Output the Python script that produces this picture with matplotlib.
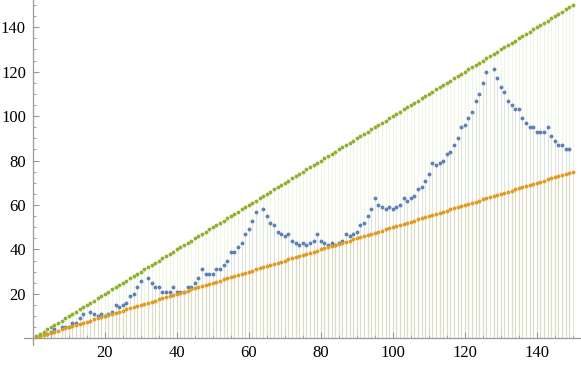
import numpy as np
import matplotlib
matplotlib.use("Agg")
import matplotlib.pyplot as plt
from matplotlib.ticker import MultipleLocator

nan = np.nan

# index 1..150
n = list(range(1, 151))

# blue series (gaps where the picture shows no point)
seq = [nan, 1, nan, 2, 3, 4, nan, 5, 5, 5,
       7, 7, 9, 11, nan, 12, 11, 10, 11, 10,
       11, 12, 15, 14, 15, 16, 19, 20, 23, 26,
       nan, 27, 25, 23, 23, 21, 21, 21, 23, 21,
       21, 21, 23, 23, 25, 27, 31, 29, 29, 29,
       31, 31, 33, 35, 39, 39, 41, 43, 47, 49,
       53, 57, nan, 58, 55, 52, 51, 48, 47, 46,
       47, 44, 43, 42, 43, 42, 43, 44, 47, 44,
       43, 42, 43, 42, 43, 44, 47, 46, 47, 48,
       51, 52, 55, 58, 63, 60, 59, 58, 59, 58,
       59, 60, 63, 62, 63, 64, 67, 68, 71, 74,
       79, 78, 79, 80, 83, 84, 87, 90, 95, 96,
       99, 102, 107, 110, 115, 120, nan, 121, 117, 113,
       111, 107, 105, 103, 103, 99, 97, 95, 95, 93,
       93, 93, 95, 91, 89, 87, 87, 85, 85, nan]

# lower bound n/2
half = [0.5, 1, 1.5, 2, 2.5, 3, 3.5, 4, 4.5, 5, 5.5, 6, 6.5, 7, 7.5, 8, 8.5, 9, 9.5, 10,
        10.5, 11, 11.5, 12, 12.5, 13, 13.5, 14, 14.5, 15, 15.5, 16, 16.5, 17, 17.5, 18, 18.5, 19, 19.5, 20,
        20.5, 21, 21.5, 22, 22.5, 23, 23.5, 24, 24.5, 25, 25.5, 26, 26.5, 27, 27.5, 28, 28.5, 29, 29.5, 30,
        30.5, 31, 31.5, 32, 32.5, 33, 33.5, 34, 34.5, 35, 35.5, 36, 36.5, 37, 37.5, 38, 38.5, 39, 39.5, 40,
        40.5, 41, 41.5, 42, 42.5, 43, 43.5, 44, 44.5, 45, 45.5, 46, 46.5, 47, 47.5, 48, 48.5, 49, 49.5, 50,
        50.5, 51, 51.5, 52, 52.5, 53, 53.5, 54, 54.5, 55, 55.5, 56, 56.5, 57, 57.5, 58, 58.5, 59, 59.5, 60,
        60.5, 61, 61.5, 62, 62.5, 63, 63.5, 64, 64.5, 65, 65.5, 66, 66.5, 67, 67.5, 68, 68.5, 69, 69.5, 70,
        70.5, 71, 71.5, 72, 72.5, 73, 73.5, 74, 74.5, 75]

# upper bound n
full = [1, 2, 3, 4, 5, 6, 7, 8, 9, 10, 11, 12, 13, 14, 15, 16, 17, 18, 19, 20,
        21, 22, 23, 24, 25, 26, 27, 28, 29, 30, 31, 32, 33, 34, 35, 36, 37, 38, 39, 40,
        41, 42, 43, 44, 45, 46, 47, 48, 49, 50, 51, 52, 53, 54, 55, 56, 57, 58, 59, 60,
        61, 62, 63, 64, 65, 66, 67, 68, 69, 70, 71, 72, 73, 74, 75, 76, 77, 78, 79, 80,
        81, 82, 83, 84, 85, 86, 87, 88, 89, 90, 91, 92, 93, 94, 95, 96, 97, 98, 99, 100,
        101, 102, 103, 104, 105, 106, 107, 108, 109, 110, 111, 112, 113, 114, 115, 116, 117, 118, 119, 120,
        121, 122, 123, 124, 125, 126, 127, 128, 129, 130, 131, 132, 133, 134, 135, 136, 137, 138, 139, 140,
        141, 142, 143, 144, 145, 146, 147, 148, 149, 150]

blue = (0.368417, 0.506779, 0.709798)
orange = (0.880722, 0.611041, 0.142051)
green = (0.560181, 0.691569, 0.194885)

plt.rcParams['font.family'] = ['Liberation Serif', 'DejaVu Serif']

fig = plt.figure(figsize=(5.81, 3.65), dpi=100)
ax = fig.add_axes([24 / 581, 20 / 365, 557 / 581, 345 / 365])

# filling to axis
seq_arr = np.array(seq, dtype=float)
ok = ~np.isnan(seq_arr)
ax.vlines(np.array(n)[ok], 0, seq_arr[ok], colors=[blue], alpha=0.13, lw=0.8, zorder=1)
ax.vlines(n, 0, half, colors=[orange], alpha=0.13, lw=0.8, zorder=1)
ax.vlines(n, 0, full, colors=[green], alpha=0.13, lw=0.8, zorder=1)

ax.plot(n, seq, 'o', color=blue, ms=2.8, mew=0, zorder=3)
ax.plot(n, half, 'o', color=orange, ms=2.8, mew=0, zorder=3)
ax.plot(n, full, 'o', color=green, ms=2.8, mew=0, zorder=3)

ax.set_xlim(-2.47, 152.25)
ax.set_ylim(-3.0, 152.25)

for s in ['top', 'right']:
    ax.spines[s].set_visible(False)
for s in ['left', 'bottom']:
    ax.spines[s].set_position(('data', 0))
    ax.spines[s].set_color('#999999')
    ax.spines[s].set_linewidth(0.9)

ax.xaxis.set_minor_locator(MultipleLocator(5))
ax.yaxis.set_minor_locator(MultipleLocator(5))
ax.set_xticks([20, 40, 60, 80, 100, 120, 140])
ax.set_yticks([20, 40, 60, 80, 100, 120, 140])
ax.tick_params(which='major', direction='in', length=4, width=0.8, color='#999999',
               labelsize=12, pad=5)
ax.tick_params(which='minor', direction='in', length=2.2, width=0.6, color='#999999')
ax.patch.set_alpha(0)

fig.savefig('out.png', dpi=100)
